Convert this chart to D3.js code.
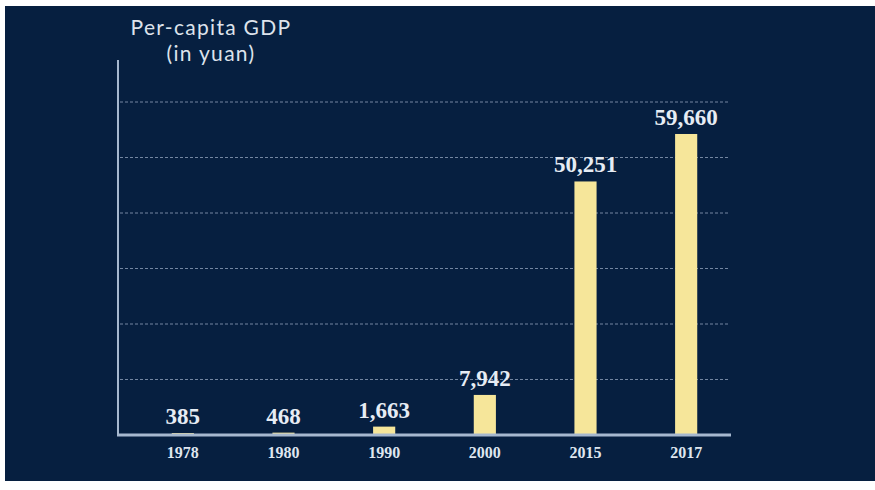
<!DOCTYPE html>
<html>
<head>
<meta charset="utf-8">
<script src="https://cdn.jsdelivr.net/npm/d3@7"></script>
<style>
  html, body { margin: 0; padding: 0; background: #ffffff; }
  svg { display: block; }
</style>
</head>
<body>
<svg id="chart" width="875" height="490"></svg>
<script>
// Per-capita GDP by year (yuan)
const years = ["1978", "1980", "1990", "2000", "2015", "2017"];
const gdpPerCapita = [385, 468, 1663, 7942, 50251, 59660];
const gridValues = [11000, 22000, 33000, 44000, 55000, 66000];
const titleLines = ["Per-capita GDP", "(in yuan)"];

const data = years.map((y, i) => ({ year: y, value: gdpPerCapita[i] }));

const svg = d3.select("#chart");

// navy panel
svg.append("rect")
  .attr("x", 5).attr("y", 6)
  .attr("width", 870).attr("height", 475)
  .attr("fill", "#061f40");

const baseY = 435;
const axisX = 118;

const x = d3.scaleBand()
  .domain(years)
  .range([132.5, 736.5])
  .paddingInner(0.78)
  .paddingOuter(0.39);

const y = d3.scaleLinear()
  .domain([0, 66000])
  .range([baseY, 102]);

// dashed horizontal grid
svg.append("g")
  .selectAll("line")
  .data(gridValues)
  .join("line")
  .attr("x1", axisX + 2).attr("x2", 728)
  .attr("y1", d => y(d)).attr("y2", d => y(d))
  .attr("stroke", "#8798b3")
  .attr("stroke-width", 1)
  .attr("stroke-dasharray", "3,2")
  .attr("opacity", 0.85);

// bars
svg.append("g")
  .selectAll("rect")
  .data(data)
  .join("rect")
  .attr("x", d => x(d.year))
  .attr("width", x.bandwidth())
  .attr("y", d => y(d.value))
  .attr("height", d => baseY - y(d.value))
  .attr("fill", "#f6e69a");

// value labels
const fmt = d3.format(",");
svg.append("g")
  .selectAll("text")
  .data(data)
  .join("text")
  .attr("x", d => x(d.year) + x.bandwidth() / 2)
  .attr("y", d => y(d.value) - 9)
  .attr("text-anchor", "middle")
  .attr("font-family", "'Liberation Serif', 'Times New Roman', serif")
  .attr("font-weight", "bold")
  .attr("font-size", 23)
  .attr("fill", "#e6ecf4")
  .text(d => fmt(d.value));

// axes
svg.append("line")
  .attr("x1", axisX).attr("x2", axisX)
  .attr("y1", 60).attr("y2", baseY + 1)
  .attr("stroke", "#a6b8cf").attr("stroke-width", 2);

const xAxis = svg.append("g")
  .attr("transform", `translate(0,${baseY})`)
  .call(d3.axisBottom(x).tickSize(0).tickPadding(12));
xAxis.select(".domain").remove();
xAxis.append("line")
  .attr("x1", axisX - 1).attr("x2", 731)
  .attr("y1", 0).attr("y2", 0)
  .attr("stroke", "#a6b8cf").attr("stroke-width", 3);
xAxis.selectAll(".tick text")
  .attr("font-family", "'Liberation Serif', 'Times New Roman', serif")
  .attr("font-weight", "bold")
  .attr("font-size", 16)
  .attr("fill", "#dfe6ef");

// axis title
svg.append("g")
  .selectAll("text")
  .data(titleLines)
  .join("text")
  .attr("x", 211)
  .attr("y", (d, i) => 35 + i * 26)
  .attr("text-anchor", "middle")
  .attr("font-family", "Lato, 'Open Sans', sans-serif")
  .attr("font-size", 21)
  .attr("letter-spacing", 1.3)
  .attr("fill", "#dde3ec")
  .text(d => d);
</script>
</body>
</html>
